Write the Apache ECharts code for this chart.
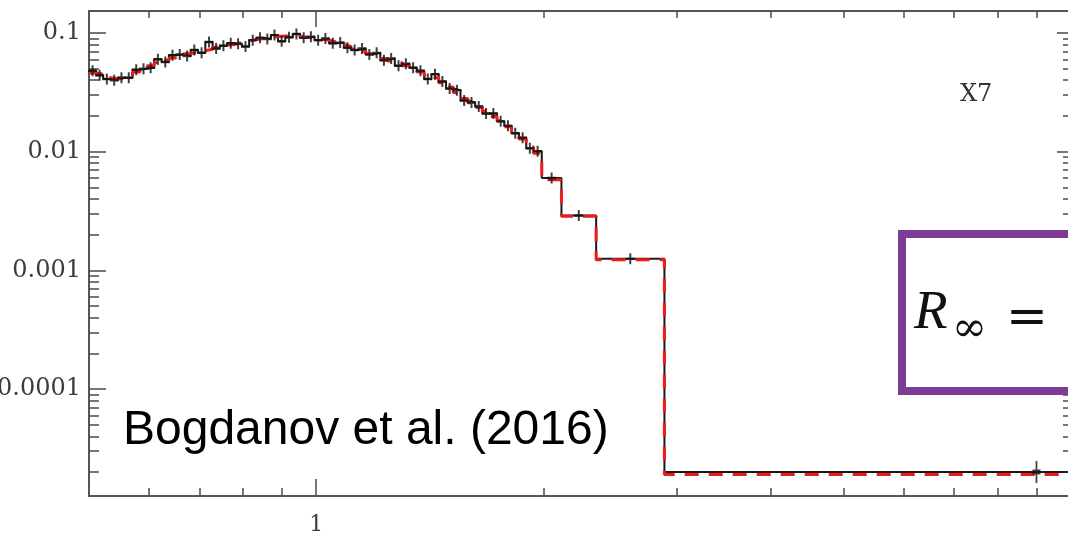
<!DOCTYPE html>
<html>
<head>
<meta charset="utf-8">
<script src="https://cdn.jsdelivr.net/npm/echarts@6/dist/echarts.min.js"></script>
<style>
  html, body { margin: 0; padding: 0; background: #ffffff; }
  #chart { width: 1068px; height: 536px; }
</style>
</head>
<body>
<div id="chart"></div>
<script>
// Energy bin edges (keV): fine bins up to ~2 keV, then four wide high-energy bins
const binEdges = [
  0.500, 0.511, 0.522, 0.534, 0.546, 0.558, 0.571, 0.584, 0.597, 0.610,
  0.624, 0.638, 0.652, 0.667, 0.682, 0.697, 0.713, 0.729, 0.745, 0.762,
  0.779, 0.797, 0.815, 0.833, 0.852, 0.871, 0.890, 0.910, 0.931, 0.952,
  0.973, 0.995, 1.017, 1.040, 1.064, 1.088, 1.112, 1.137, 1.163, 1.189,
  1.216, 1.243, 1.271, 1.300, 1.329, 1.359, 1.390, 1.421, 1.453, 1.486,
  1.519, 1.553, 1.588, 1.624, 1.660, 1.698, 1.736, 1.775, 1.815, 1.856,
  1.898, 1.940, 1.990,
  2.113, 2.349, 2.893, 28.0
];

// Observed spectrum, one value per bin
const observed = [
  0.048, 0.044, 0.041, 0.040, 0.042, 0.042, 0.049, 0.050, 0.051, 0.060,
  0.057, 0.065, 0.066, 0.064, 0.072, 0.068, 0.084, 0.074, 0.078, 0.082,
  0.081, 0.077, 0.087, 0.091, 0.089, 0.096, 0.085, 0.092, 0.098, 0.091,
  0.093, 0.087, 0.090, 0.082, 0.083, 0.075, 0.072, 0.074, 0.066, 0.068,
  0.059, 0.061, 0.053, 0.055, 0.051, 0.048, 0.041, 0.045, 0.039, 0.034,
  0.033, 0.027, 0.026, 0.024, 0.021, 0.021, 0.018, 0.0165, 0.0143, 0.0131,
  0.0107, 0.0101,
  0.0060, 0.0029, 0.00125, 2.0e-5
];

// Best-fit model, one value per bin
const model = [
  0.046, 0.045, 0.042, 0.041, 0.0415, 0.043, 0.047, 0.0505, 0.053, 0.056,
  0.059, 0.0615, 0.064, 0.067, 0.069, 0.071, 0.073, 0.076, 0.079, 0.080,
  0.083, 0.085, 0.088, 0.090, 0.0925, 0.0935, 0.0944, 0.0945, 0.0935, 0.092,
  0.0905, 0.089, 0.087, 0.084, 0.080, 0.077, 0.073, 0.070, 0.067, 0.064,
  0.061, 0.058, 0.056, 0.053, 0.050, 0.047, 0.044, 0.042, 0.038, 0.035,
  0.0315, 0.028, 0.0258, 0.0236, 0.022, 0.0198, 0.0182, 0.0162, 0.0146, 0.0128,
  0.0110, 0.0097,
  0.0058, 0.00285, 0.00123, 1.9e-5
];

// Axis ranges and labelled ticks
const xRange = [0.5, 10];
const yRange = [1.255e-5, 0.1532];
const xMajorTicks = [1, 10];
const xLabelTicks = [1];
const xTickLabels = ['1'];
const yMajorTicks = [1e-4, 1e-3, 1e-2, 1e-1];
const yTickLabels = ['0.0001', '0.001', '0.01', '0.1'];

// Minor ticks at 2..9 times each decade
function minorTicks(fromExp, toExp, lo, hi) {
  const out = [];
  for (let e = fromExp; e <= toExp; e++) {
    for (let m = 2; m <= 9; m++) {
      const v = m * Math.pow(10, e);
      if (v > lo && v < hi) out.push(v);
    }
  }
  return out;
}
const xMinorTicks = minorTicks(-1, 0, xRange[0], xRange[1]);
const yMinorTicks = minorTicks(-5, -1, yRange[0], yRange[1]);

// Step-line points: left edge of every bin, plus the right edge of the last one
function stepPoints(vals) {
  const pts = vals.map((v, i) => [binEdges[i], v]);
  pts.push([binEdges[binEdges.length - 1], vals[vals.length - 1]]);
  return pts;
}

// Markers at the logarithmic centre of every bin
const markerPoints = observed.map((v, i) => {
  const c = Math.sqrt(binEdges[i] * binEdges[i + 1]);
  const item = { value: [c, v] };
  if (i === observed.length - 1) item.symbolSize = [8, 22];
  return item;
});

const AXIS_COLOR = '#555555';
const LABEL_FONT = 'DejaVu Serif';

function labelFor(list, labels) {
  return function (val) {
    for (let i = 0; i < list.length; i++) {
      if (Math.abs(Math.log10(val) - Math.log10(list[i])) < 1e-6) return labels[i];
    }
    return '';
  };
}

function logAxis(range, position, ticks, tickLen, showLine, label) {
  return {
    type: 'log',
    logBase: 10,
    min: range[0],
    max: range[1],
    position: position,
    splitLine: { show: false },
    axisLine: { show: showLine, onZero: false, lineStyle: { color: AXIS_COLOR, width: 2 } },
    axisTick: {
      show: true, inside: true, length: tickLen, customValues: ticks,
      lineStyle: { color: AXIS_COLOR, width: 1.6 }
    },
    axisLabel: label || { show: false }
  };
}

const chart = echarts.init(document.getElementById('chart'), null, { renderer: 'canvas' });

chart.setOption({
  animation: false,
  backgroundColor: '#ffffff',
  grid: { left: 89, top: 11, width: 982, height: 485, containLabel: false, outerBoundsMode: 'none' },
  xAxis: [
    logAxis(xRange, 'bottom', xMajorTicks, 17, true, {
      show: true, customValues: xLabelTicks, margin: 18,
      formatter: labelFor(xLabelTicks, xTickLabels),
      fontFamily: LABEL_FONT, fontSize: 22, color: '#3c3c3c'
    }),
    logAxis(xRange, 'bottom', xMinorTicks, 8, false),
    logAxis(xRange, 'top', xMajorTicks, 16, true),
    logAxis(xRange, 'top', xMinorTicks, 7, false)
  ],
  yAxis: [
    logAxis(yRange, 'left', yMajorTicks, 17, true, {
      show: true, customValues: yMajorTicks, margin: 8,
      formatter: labelFor(yMajorTicks, yTickLabels),
      fontFamily: LABEL_FONT, fontSize: 24, color: '#3c3c3c'
    }),
    logAxis(yRange, 'left', yMinorTicks, 10, false),
    logAxis(yRange, 'right', yMajorTicks, 14, true),
    logAxis(yRange, 'right', yMinorTicks, 8, false)
  ],
  series: [
    {
      name: 'data',
      type: 'line',
      step: 'end',
      xAxisIndex: 0, yAxisIndex: 0,
      showSymbol: false, symbol: 'none',
      data: stepPoints(observed),
      lineStyle: { color: '#1a1a1a', width: 2 },
      z: 2
    },
    {
      name: 'model',
      type: 'line',
      step: 'end',
      xAxisIndex: 0, yAxisIndex: 0,
      showSymbol: false, symbol: 'none',
      data: stepPoints(model),
      lineStyle: { color: '#f01a1a', width: 3, type: [14, 10] },
      z: 3
    },
    {
      name: 'errors',
      type: 'scatter',
      xAxisIndex: 0, yAxisIndex: 0,
      symbol: 'path://M3.9,0 H6.1 V10 H3.9 Z M0,3.9 H10 V6.1 H0 Z',
      symbolSize: [9, 11],
      itemStyle: { color: '#111111' },
      data: markerPoints,
      z: 4
    }
  ],
  graphic: [
    {
      type: 'text', x: 123, y: 431, z: 100,
      style: { text: 'Bogdanov et al. (2016)', font: '48px "Liberation Sans"', fill: '#000000', verticalAlign: 'middle' }
    },
    {
      type: 'text', x: 960, y: 95, z: 100,
      style: { text: 'X7', font: '24px "DejaVu Serif"', fill: '#333333', verticalAlign: 'middle' }
    },
    {
      type: 'rect', z: 100,
      shape: { x: 902, y: 234, width: 220, height: 157 },
      style: { fill: '#ffffff', stroke: '#7d3c98', lineWidth: 8 }
    },
    {
      type: 'text', x: 914, y: 314, z: 101,
      style: { text: 'R', font: 'italic 55px "Liberation Serif"', fill: '#111111', verticalAlign: 'middle' }
    },
    {
      type: 'text', x: 952, y: 330, z: 101,
      style: { text: '\u221E', font: '42px "DejaVu Serif"', fill: '#111111', verticalAlign: 'middle' }
    },
    {
      type: 'text', x: 1006, y: 320, z: 101,
      style: { text: '=', font: '50px "DejaVu Serif"', fill: '#111111', verticalAlign: 'middle' }
    }
  ]
});
</script>
</body>
</html>
